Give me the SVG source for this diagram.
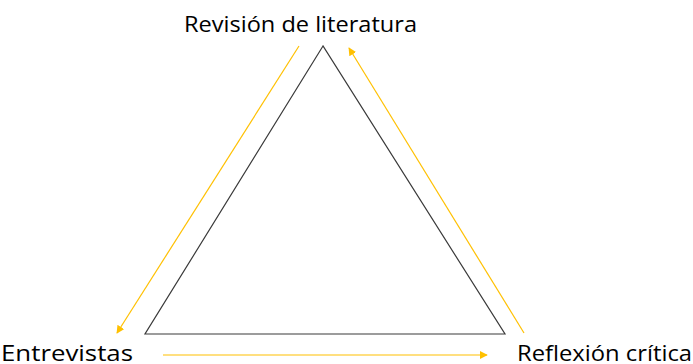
<svg xmlns="http://www.w3.org/2000/svg" width="693" height="364" viewBox="0 0 693 364">
<style>
.lbl{font-family:"Open Sans","Liberation Sans",sans-serif;font-size:21px;fill:#000}
.arr{stroke:#FFC000;stroke-width:1.2;fill:none;marker-end:url(#ah)}
</style>
<defs>
<marker id="ah" viewBox="0 0 10 10" refX="9" refY="5" markerWidth="8" markerHeight="8" markerUnits="userSpaceOnUse" orient="auto">
<path d="M0,0 L10,5 L0,10 z" fill="#FFC000"/>
</marker>
</defs>
<rect width="693" height="364" fill="#fff"/>
<g id="triangle">
<polygon points="323,46 145,334 505,334" fill="none" stroke="#3a3a3a" stroke-width="1.2"/>
</g>
<g id="node-revision"><text class="lbl" x="184" y="32" textLength="233" lengthAdjust="spacingAndGlyphs">Revisión de literatura</text></g>
<g id="node-entrevistas"><text class="lbl" x="1" y="361" textLength="132" lengthAdjust="spacingAndGlyphs">Entrevistas</text></g>
<g id="node-reflexion"><text class="lbl" x="517" y="361" textLength="175" lengthAdjust="spacingAndGlyphs">Reflexión crítica</text></g>
<g id="connectors">
<line class="arr" x1="299" y1="46" x2="117" y2="333"/>
<line class="arr" x1="163" y1="355" x2="487" y2="355"/>
<line class="arr" x1="524" y1="333" x2="349" y2="48"/>
</g>
</svg>
